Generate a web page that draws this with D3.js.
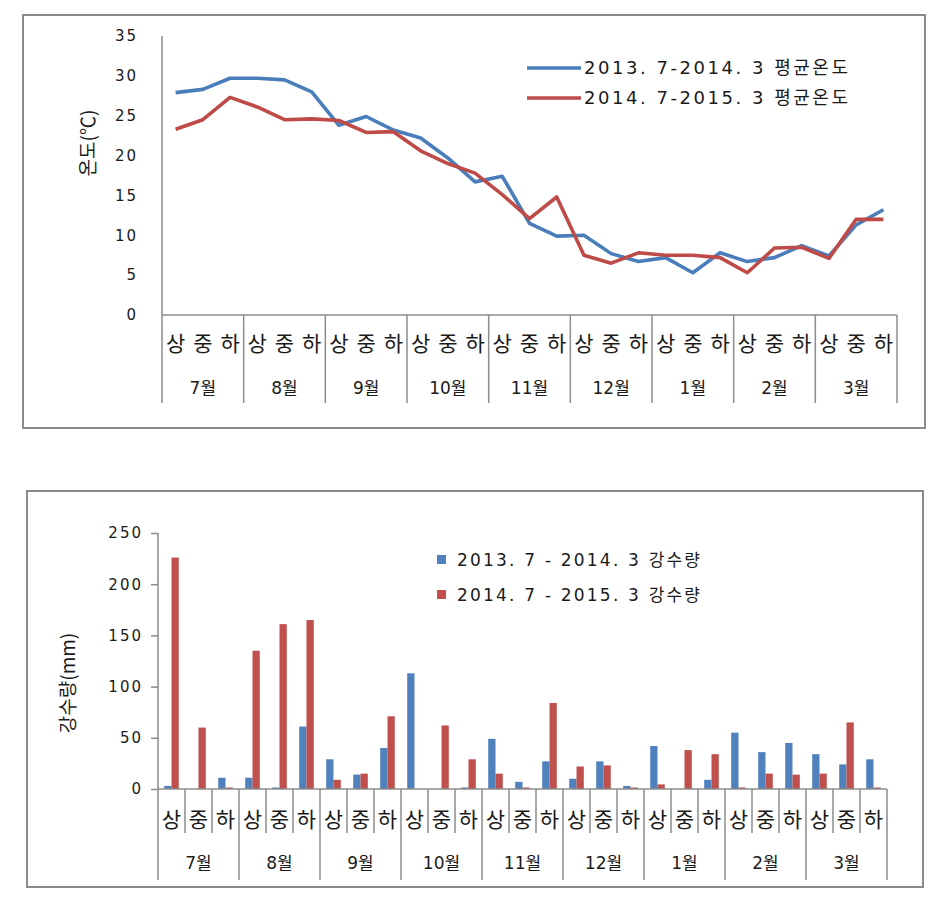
<!DOCTYPE html>
<html>
<head>
<meta charset="utf-8">
<script src="https://cdn.jsdelivr.net/npm/d3@7"></script>
<style>
  html, body { margin: 0; padding: 0; background: #fff; }
  svg { display: block; }
  text { font-family: "DejaVu Sans", "Noto Sans CJK KR", sans-serif; fill: #1a1a1a; }
  .kr { font-family: "Noto Sans CJK KR", "DejaVu Sans", sans-serif; }
</style>
</head>
<body>
<svg id="chart" width="949" height="897"></svg>
<script>
// ---------- data ----------
const months = ["7월", "8월", "9월", "10월", "11월", "12월", "1월", "2월", "3월"];
const periods = ["상", "중", "하"];

const tempTicks = [0, 5, 10, 15, 20, 25, 30, 35];
const temp2013 = [27.9, 28.3, 29.7, 29.7, 29.5, 28.0, 23.8, 24.9, 23.2, 22.2, 19.7, 16.7,
                  17.4, 11.5, 9.9, 10.0, 7.7, 6.7, 7.2, 5.3, 7.8, 6.7, 7.2, 8.7, 7.4, 11.3, 13.2];
const temp2014 = [23.3, 24.5, 27.3, 26.1, 24.5, 24.6, 24.4, 22.9, 23.0, 20.6, 19.0, 17.8,
                  15.1, 12.1, 14.8, 7.5, 6.5, 7.8, 7.5, 7.5, 7.2, 5.3, 8.4, 8.5, 7.1, 12.0, 12.0];
const tempLegend = ["2013. 7-2014. 3 평균온도", "2014. 7-2015. 3 평균온도"];

const rainTicks = [0, 50, 100, 150, 200, 250];
const rain2013 = [3, 0, 11, 11, 1.5, 61, 29, 14, 40, 113, 0, 1.5,
                  49, 7, 27, 10, 27, 3, 42, 0, 9, 55, 36, 45, 34, 24, 29];
const rain2014 = [226, 60, 1.5, 135, 161, 165, 9, 15, 71, 0, 62, 29,
                  15, 1.5, 84, 22, 23, 1.5, 4.5, 38, 34, 1.5, 15, 14, 15, 65, 1.5];
const rainLegend = ["2013. 7 - 2014. 3 강수량", "2014. 7 - 2015. 3 강수량"];

const blueLine = "#4a7ebb", redLine = "#be4b48";
const blueBar = "#4f81bd", redBar = "#c0504d";

const cats = [];
months.forEach((m, i) => periods.forEach((p, j) => cats.push({ id: i * 3 + j, month: m, period: p })));

const svg = d3.select("#chart");

svg.append("rect").attr("x", 23).attr("y", 15).attr("width", 902).attr("height", 413)
  .attr("fill", "#fff").attr("stroke", "#8a8a8a").attr("stroke-width", 2);
svg.append("rect").attr("x", 27).attr("y", 491).attr("width", 896).attr("height", 396)
  .attr("fill", "#fff").attr("stroke", "#8a8a8a").attr("stroke-width", 2);

const axisColor = "#8c8c8c";

// ================= TOP: temperature =================
{
  const x = d3.scaleBand().domain(cats.map(d => d.id)).range([162, 897]).padding(0);
  const y = d3.scaleLinear().domain([0, 35]).range([315, 36]);
  const g = svg.append("g");

  const yAx = g.append("g").attr("transform", "translate(162,0)")
    .call(d3.axisLeft(y).tickValues(tempTicks).tickSize(0).tickPadding(24));
  yAx.select(".domain").remove();
  yAx.selectAll("text").attr("font-size", 15).attr("fill", "#2a2a2a").attr("letter-spacing", 2)
    .attr("font-family", "DejaVu Sans");
  g.append("line").attr("x1", 162).attr("x2", 162).attr("y1", y(35)).attr("y2", 403)
    .attr("stroke", axisColor).attr("stroke-width", 1.5);

  g.append("line").attr("x1", 162).attr("x2", 897).attr("y1", y(0)).attr("y2", y(0))
    .attr("stroke", axisColor).attr("stroke-width", 1.5);
  months.forEach((m, i) => {
    const xr = x(i * 3 + 2) + x.bandwidth();
    g.append("line").attr("x1", xr).attr("x2", xr).attr("y1", y(0)).attr("y2", 403)
      .attr("stroke", axisColor).attr("stroke-width", 1.5);
    const xc = x(i * 3 + 1) + x.bandwidth() / 2;
    g.append("text").attr("x", xc).attr("y", 394)
      .attr("text-anchor", "middle").attr("font-size", 17).text(m);
  });
  cats.forEach(c => {
    g.append("text").attr("class", "kr").attr("x", x(c.id) + x.bandwidth() / 2).attr("y", 351)
      .attr("text-anchor", "middle").attr("font-size", 21).text(c.period);
  });

  g.append("text").attr("class", "kr").attr("transform", "translate(95,143) rotate(-90)")
    .attr("text-anchor", "middle").attr("font-size", 19).text("온도(℃)");

  const line = d3.line().x((d, i) => x(i) + x.bandwidth() / 2).y(d => y(d));
  [[temp2013, blueLine], [temp2014, redLine]].forEach(([data, col]) => {
    g.append("path").datum(data).attr("d", line).attr("fill", "none")
      .attr("stroke", col).attr("stroke-width", 3.6).attr("stroke-linejoin", "round");
  });

  [[tempLegend[0], blueLine, 68], [tempLegend[1], redLine, 98]].forEach(([t, col, ly]) => {
    g.append("line").attr("x1", 527).attr("x2", 581).attr("y1", ly).attr("y2", ly)
      .attr("stroke", col).attr("stroke-width", 3.6);
    g.append("text").attr("x", 584).attr("y", ly + 6).attr("font-size", 18)
      .attr("textLength", 264).attr("lengthAdjust", "spacing").text(t);
  });
}

// ================= BOTTOM: rainfall =================
{
  const x = d3.scaleBand().domain(cats.map(d => d.id)).range([158, 887]).padding(0);
  const xs = d3.scaleBand().domain([0, 1]).range([0, x.bandwidth()]).paddingInner(0).paddingOuter(0.85);
  const y = d3.scaleLinear().domain([0, 250]).range([789, 533]);
  const g = svg.append("g");

  const yAx = g.append("g").attr("transform", "translate(158,0)")
    .call(d3.axisLeft(y).tickValues(rainTicks).tickSize(7).tickPadding(8));
  yAx.select(".domain").remove();
  yAx.selectAll(".tick line").attr("stroke", axisColor).attr("stroke-width", 1.5);
  yAx.selectAll("text").attr("font-size", 15).attr("fill", "#2a2a2a").attr("letter-spacing", 2)
    .attr("font-family", "DejaVu Sans");
  g.append("line").attr("x1", 158).attr("x2", 158).attr("y1", y(250)).attr("y2", 880)
    .attr("stroke", axisColor).attr("stroke-width", 1.5);

  cats.forEach(c => {
    [[rain2013[c.id], blueBar, 0], [rain2014[c.id], redBar, 1]].forEach(([v, col, k]) => {
      if (v > 0) {
        g.append("rect").attr("x", x(c.id) + xs(k)).attr("width", xs.bandwidth())
          .attr("y", y(v)).attr("height", y(0) - y(v)).attr("fill", col);
      }
    });
  });

  g.append("line").attr("x1", 158).attr("x2", 887).attr("y1", y(0)).attr("y2", y(0))
    .attr("stroke", axisColor).attr("stroke-width", 1.5);
  cats.forEach(c => {
    const xr = x(c.id) + x.bandwidth();
    const isMonthEnd = c.id % 3 === 2;
    g.append("line").attr("x1", xr).attr("x2", xr).attr("y1", y(0)).attr("y2", isMonthEnd ? 880 : 833)
      .attr("stroke", axisColor).attr("stroke-width", 1.5);
    g.append("text").attr("class", "kr").attr("x", x(c.id) + x.bandwidth() / 2).attr("y", 827)
      .attr("text-anchor", "middle").attr("font-size", 21).text(c.period);
  });
  months.forEach((m, i) => {
    const xc = x(i * 3 + 1) + x.bandwidth() / 2;
    g.append("text").attr("x", xc).attr("y", 869)
      .attr("text-anchor", "middle").attr("font-size", 17).text(m);
  });

  g.append("text").attr("class", "kr").attr("transform", "translate(75,683) rotate(-90)")
    .attr("text-anchor", "middle").attr("font-size", 19).text("강수량(mm)");

  [[rainLegend[0], blueBar, 560], [rainLegend[1], redBar, 595]].forEach(([t, col, ly]) => {
    g.append("rect").attr("x", 437).attr("y", ly - 5).attr("width", 9).attr("height", 9).attr("fill", col);
    g.append("text").attr("x", 457).attr("y", ly + 6).attr("font-size", 17)
      .attr("textLength", 243).attr("lengthAdjust", "spacing").text(t);
  });
}
</script>
</body>
</html>
